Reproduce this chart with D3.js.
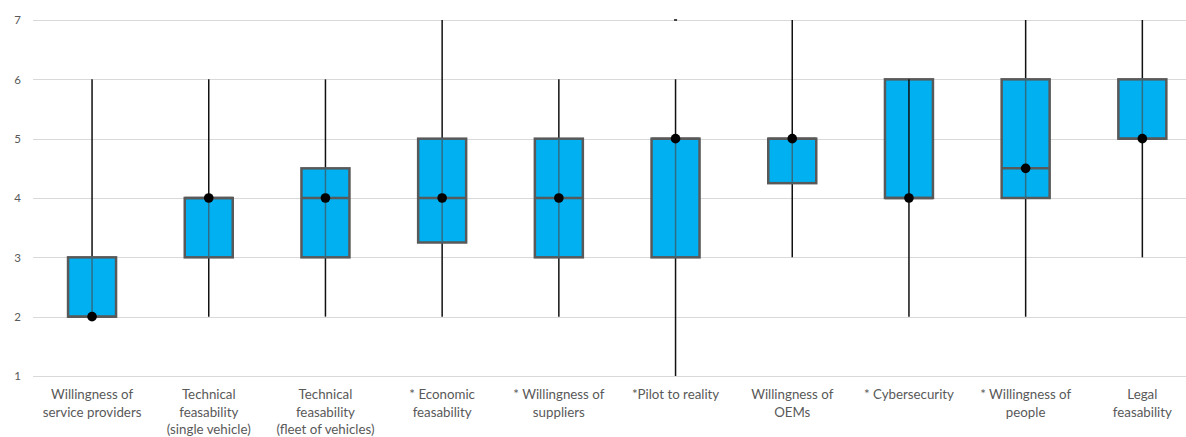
<!DOCTYPE html>
<html>
<head>
<meta charset="utf-8">
<script src="https://cdn.jsdelivr.net/npm/d3@7"></script>
<style>
  html, body { margin: 0; padding: 0; background: #fff; }
  svg { display: block; }
  text { font-family: Lato, "Open Sans", "Liberation Sans", sans-serif; fill: #595959; }
</style>
</head>
<body>
<svg id="chart" width="1186" height="437"></svg>
<script>
// Category labels (line breaks as shown under each box)
const categories = [
  ["Willingness of", "service providers"],
  ["Technical", "feasability", "(single vehicle)"],
  ["Technical", "feasability", "(fleet of vehicles)"],
  ["* Economic", "feasability"],
  ["* Willingness of", "suppliers"],
  ["*Pilot to reality"],
  ["Willingness of", "OEMs"],
  ["* Cybersecurity"],
  ["* Willingness of", "people"],
  ["Legal", "feasability"]
];
// Distribution summary per category
const whiskerLow  = [2, 2, 2, 2, 2, 1, 3, 2, 2, 3];
const whiskerHigh = [6, 6, 6, 7, 6, 6, 7, 6, 7, 7];
const q1          = [2, 3, 3, 3.25, 3, 3, 4.25, 4, 4, 5];
const q3          = [3, 4, 4.5, 5, 5, 5, 5, 6, 6, 6];
const median      = [2, 4, 4, 4, 4, 5, 5, 4, 4.5, 5];
const mean        = [2, 4, 4, 4, 4, 5, 5, 4, 4.5, 5];
// Isolated high responses
const outlierCat   = [5];
const outlierValue = [7];
const yTicks = [1, 2, 3, 4, 5, 6, 7];

const svg = d3.select("#chart");
const keys = categories.map((c, i) => i);

const x = d3.scaleBand().domain(keys).range([33.7, 1200.7]).paddingInner(0).paddingOuter(0);
const y = d3.scaleLinear().domain([1, 7]).range([376, 20]);
const boxW = 48;
const cx = i => x(i) + x.bandwidth() / 2;

// Horizontal gridlines
svg.append("g").selectAll("line").data(yTicks).join("line")
  .attr("x1", 33).attr("x2", 1186)
  .attr("y1", d => Math.round(y(d)) + 0.5).attr("y2", d => Math.round(y(d)) + 0.5)
  .attr("stroke", "#d9d9d9").attr("stroke-width", 1);

// Y axis labels
const yAxis = d3.axisLeft(y).tickValues(yTicks).tickSize(0).tickPadding(0).tickFormat(d3.format("d"));
const ya = svg.append("g").attr("transform", "translate(21,0)").call(yAxis);
ya.select(".domain").remove();
ya.selectAll("text").attr("font-size", 11.5).attr("fill", "#595959")
  .style("font-family", "Lato, 'Open Sans', sans-serif");

const g = svg.append("g");

// Whiskers
g.selectAll("line.whisker").data(keys).join("line").attr("class", "whisker")
  .attr("x1", cx).attr("x2", cx)
  .attr("y1", i => y(whiskerLow[i])).attr("y2", i => y(whiskerHigh[i]))
  .attr("stroke", "#111").attr("stroke-width", 1.5);

// Boxes
g.selectAll("rect.box").data(keys).join("rect").attr("class", "box")
  .attr("x", i => cx(i) - boxW / 2)
  .attr("width", boxW)
  .attr("y", i => y(q3[i]))
  .attr("height", i => y(q1[i]) - y(q3[i]))
  .attr("fill", "#00b0f0").attr("stroke", "#595959").attr("stroke-width", 2.5);

// Whisker trace visible through the box
g.selectAll("line.inner").data(keys).join("line").attr("class", "inner")
  .attr("x1", cx).attr("x2", cx)
  .attr("y1", i => y(Math.max(q1[i], whiskerLow[i])))
  .attr("y2", i => y(Math.min(q3[i], whiskerHigh[i])))
  .attr("stroke", i => i === 7 ? "#111" : "#2f6d85").attr("stroke-width", 1.5);

// Median lines
g.selectAll("line.median").data(keys).join("line").attr("class", "median")
  .attr("x1", i => cx(i) - boxW / 2).attr("x2", i => cx(i) + boxW / 2)
  .attr("y1", i => y(median[i])).attr("y2", i => y(median[i]))
  .attr("stroke", "#595959").attr("stroke-width", 2.5);

// Outlier ticks
g.selectAll("rect.outlier").data(outlierCat).join("rect").attr("class", "outlier")
  .attr("x", (c) => cx(c) - 1.5).attr("width", 3)
  .attr("y", (c, j) => y(outlierValue[j]) - 1).attr("height", 2)
  .attr("fill", "#444");

// Mean markers
g.selectAll("circle.mean").data(keys).join("circle").attr("class", "mean")
  .attr("cx", cx).attr("cy", i => y(mean[i])).attr("r", 4.8)
  .attr("fill", "#000");

// Category labels
const xl = svg.append("g");
keys.forEach(i => {
  const t = xl.append("text")
    .attr("x", cx(i)).attr("y", 399)
    .attr("text-anchor", "middle").attr("font-size", 13.3);
  categories[i].forEach((line, k) => {
    t.append("tspan").attr("x", cx(i)).attr("y", 399 + k * 17.5).text(line);
  });
});
</script>
</body>
</html>
